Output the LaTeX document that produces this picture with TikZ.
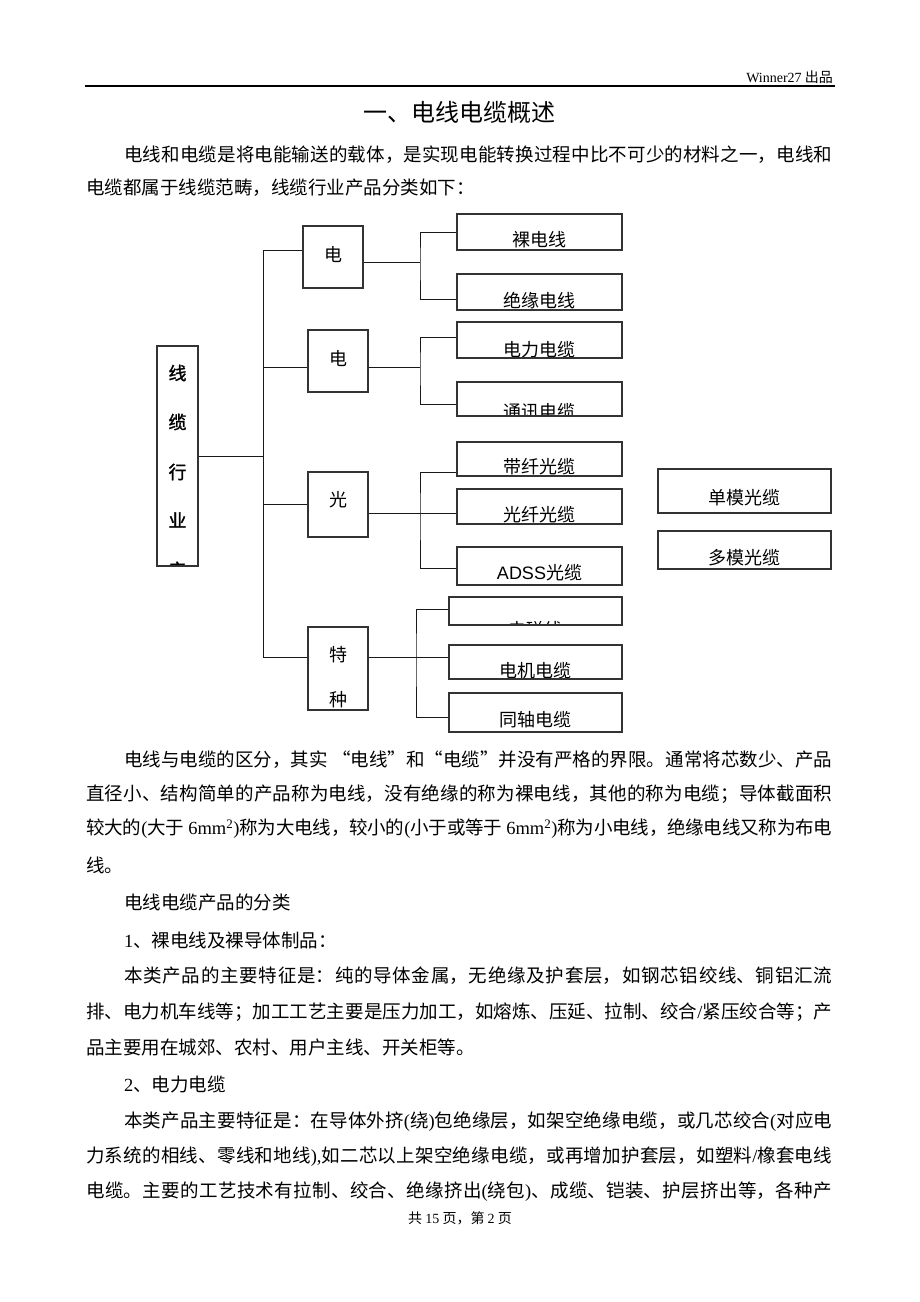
\documentclass[tikz,border=0pt]{standalone}
\usepackage{fontspec}
\setmainfont{Liberation Serif}
\newfontfamily\cjk{Noto Sans CJK SC}
\newfontfamily\cjkbold[FakeBold=1.5]{Noto Sans CJK SC}
\newfontfamily\arialfont{Liberation Sans}
\XeTeXlinebreaklocale "zh"
\XeTeXlinebreakskip=0pt plus 2pt minus 0.6pt
% latin bits of the body text
\newcommand\lt[1]{{\rmfamily #1}}
% one justified text line
\newcommand\jline[2]{\parbox{#1pt}{\parfillskip=0pt\noindent#2}}
% text inside a box, clipped by the box
\newcommand\intext[2]{\node[boxtext] at ([yshift=#1pt]path picture bounding box.center) {#2};}

\begin{document}
\begin{tikzpicture}[
    x=1pt, y=-1pt,
    every node/.style={inner sep=0pt},
    box/.style={draw=black!80, line width=1.2pt},
    midbox/.style={box, minimum width=60pt},
    leafbox/.style={box, minimum width=165pt},
    specbox/.style={box, minimum width=173pt},
    boxtext/.style={font=\cjk\fontsize{18}{18}\selectfont},
    roottext/.style={font=\cjkbold\fontsize{18}{18}\selectfont},
    link/.style={line width=1pt, draw=black!90},
    bodytext/.style={anchor=west, font=\cjk\fontsize{18.5}{22}\selectfont},
    smalltext/.style={font=\cjk\fontsize{14}{14}\selectfont}
  ]
  \fill[white] (0,0) rectangle (920,1302);
  \useasboundingbox (0,0) rectangle (920,1302);

  % Page head
  \node[smalltext, anchor=east] (head) at (833,77) {\lt{Winner27} 出品};
  \draw[line width=1.6pt] (85,86) -- (835,86);
  \node[font=\cjk\fontsize{24}{24}\selectfont] (title) at (459,112) {一、电线电缆概述};
  \node[bodytext] (p1a) at (124,155) {\jline{708}{电线和电缆是将电能输送的载体，是实现电能转换过程中比不可少的材料之一，电线和}};
  \node[bodytext] (p1b) at (86,188) {电缆都属于线缆范畴，线缆行业产品分类如下：};

  % Root box
  \node[box, minimum width=41pt, minimum height=220pt, path picture={
      \foreach \ch/\up in {线/83,缆/34,行/-16,业/-64,产/-114}
        {\node[roottext] at ([yshift=\up pt]path picture bounding box.center) {\ch};}
    }] (root) at (177.5,456) {};

  % Class boxes
  \node[midbox, minimum height=62pt, path picture={\intext{2}{电}}] (wire) at (333,257) {};
  \node[midbox, minimum height=62pt, path picture={\intext{2}{电}}] (cable) at (338,361) {};
  \node[midbox, minimum height=65pt, path picture={\intext{4.5}{光}}] (optic) at (338,504.5) {};
  \node[midbox, minimum height=83pt, path picture={\intext{13.5}{特}\intext{-31.5}{种}}] (special) at (338,668.5) {};

  % Product boxes
  \node[leafbox, minimum height=36pt, path picture={\intext{-8}{裸电线}}] (bare) at (539.5,232) {};
  \node[leafbox, minimum height=36pt, path picture={\intext{-9}{绝缘电线}}] (insul) at (539.5,292) {};
  \node[leafbox, minimum height=36pt, path picture={\intext{-10}{电力电缆}}] (power) at (539.5,340) {};
  \node[leafbox, minimum height=34pt, path picture={\intext{-13}{通讯电缆}}] (comm) at (539.5,399) {};
  \node[leafbox, minimum height=34pt, path picture={\intext{-8}{带纤光缆}}] (ribbon) at (539.5,459) {};
  \node[leafbox, minimum height=35pt, path picture={\intext{-8.5}{光纤光缆}}] (fiber) at (539.5,506.5) {};
  \node[leafbox, minimum height=38pt, path picture={\intext{-7}{{\arialfont ADSS}光缆}}] (adss) at (539.5,566) {};
  \node[specbox, minimum height=28pt, path picture={\intext{-19}{电磁线}}] (magnet) at (535.5,611) {};
  \node[specbox, minimum height=34pt, path picture={\intext{-8.5}{电机电缆}}] (motor) at (535.5,662) {};
  \node[specbox, minimum height=39pt, path picture={\intext{-7.5}{同轴电缆}}] (coax) at (535.5,712.5) {};
  \node[specbox, minimum height=44pt, path picture={\intext{-7}{单模光缆}}] (single) at (744.5,491) {};
  \node[specbox, minimum height=38pt, path picture={\intext{-8}{多模光缆}}] (multi) at (744.5,550) {};

  % Trunk
  \coordinate (tt) at (263,250);
  \coordinate (tb) at (263,657);
  \draw[link] (wire.west |- tt) -- (tt) -- (tb) -- (tb -| special.west);
  \draw[link] (root.east) -| (tt);
  \draw[link] ([yshift=-6pt]cable.west) -| (tt);
  \draw[link] (optic.west) -| (tt);

  % Branches
  \coordinate (s1) at (420,262);
  \coordinate (s2) at (420,367);
  \coordinate (s3) at (420,513);
  \coordinate (s4) at (416,657);
  \draw[link] ([yshift=-5pt]wire.east) -- (s1);
  \draw[link] (bare.west) -| (s1) |- ([yshift=-7pt]insul.west);
  \draw[link] ([yshift=-6pt]cable.east) -- (s2);
  \draw[link] ([yshift=3pt]power.west) -| (s2) |- ([yshift=-5pt]comm.west);
  \draw[link] ([yshift=-8.5pt]optic.east) -- ([yshift=-6.5pt]fiber.west);
  \draw[link] ([yshift=-13pt]ribbon.west) -| (s3) |- ([yshift=-2pt]adss.west);
  \draw[link] ([yshift=11.5pt]special.east) -- ([yshift=5pt]motor.west);
  \draw[link] ([yshift=2pt]magnet.west) -| (s4) |- ([yshift=-4.5pt]coax.west);

  % Body text
  \node[bodytext] (p2a) at (124,760) {\jline{708}{电线与电缆的区分，其实 “电线”和“电缆”并没有严格的界限。通常将芯数少、产品}};
  \node[bodytext] (p2b) at (86,794) {\jline{746}{直径小、结构简单的产品称为电线，没有绝缘的称为裸电线，其他的称为电缆；导体截面积}};
  \node[bodytext] (p2c) at (86,829) {\jline{746}{较大的\lt{(}大于\lt{ 6mm\textsuperscript{2})}称为大电线，较小的\lt{(}小于或等于\lt{ 6mm\textsuperscript{2})}称为小电线，绝缘电线又称为布电}};
  \node[bodytext] (p2d) at (86,865) {线。};
  \node[bodytext] (p3) at (124,902) {电线电缆产品的分类};
  \node[bodytext] (h1) at (124,940) {\lt{1}、裸电线及裸导体制品：};
  \node[bodytext] (p4a) at (124,976) {\jline{708}{本类产品的主要特征是：纯的导体金属，无绝缘及护套层，如钢芯铝绞线、铜铝汇流}};
  \node[bodytext] (p4b) at (86,1012) {\jline{746}{排、电力机车线等；加工工艺主要是压力加工，如熔炼、压延、拉制、绞合\lt{/}紧压绞合等；产}};
  \node[bodytext] (p4c) at (86,1047) {品主要用在城郊、农村、用户主线、开关柜等。};
  \node[bodytext] (h2) at (124,1084) {\lt{2}、电力电缆};
  \node[bodytext] (p5a) at (124,1122) {\jline{708}{本类产品主要特征是：在导体外挤\lt{(}绕\lt{)}包绝缘层，如架空绝缘电缆，或几芯绞合\lt{(}对应电}};
  \node[bodytext] (p5b) at (86,1157) {\jline{746}{力系统的相线、零线和地线\lt{),}如二芯以上架空绝缘电缆，或再增加护套层，如塑料\lt{/}橡套电线}};
  \node[bodytext] (p5c) at (86,1192) {\jline{746}{电缆。主要的工艺技术有拉制、绞合、绝缘挤出\lt{(}绕包\lt{)}、成缆、铠装、护层挤出等，各种产}};
  \node[smalltext] (foot) at (460,1218) {共 \lt{15} 页，第 \lt{2} 页};
\end{tikzpicture}
\end{document}
